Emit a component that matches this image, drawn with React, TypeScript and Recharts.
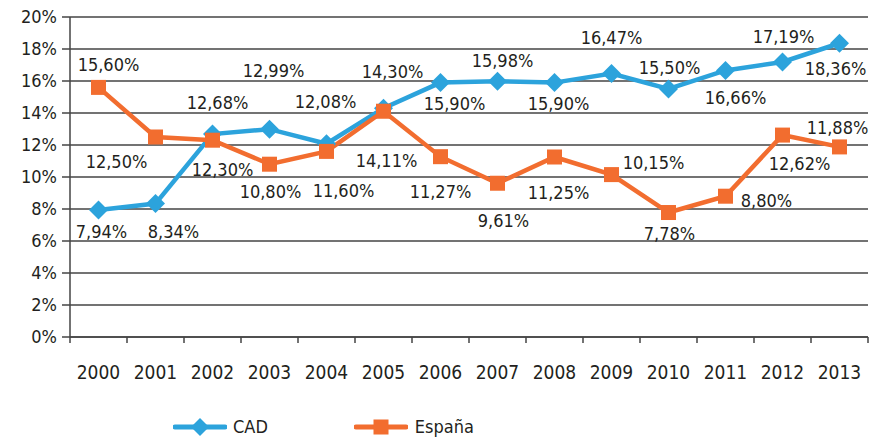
import React from 'react';
import {
  CartesianGrid,
  Legend,
  LabelList,
  Line,
  LineChart,
  XAxis,
  YAxis,
} from 'recharts';

// 数据
const years = ['2000', '2001', '2002', '2003', '2004', '2005', '2006', '2007', '2008', '2009', '2010', '2011', '2012', '2013'];
const cad = [7.94, 8.34, 12.68, 12.99, 12.08, 14.3, 15.9, 15.98, 15.9, 16.47, 15.5, 16.66, 17.19, 18.36];
const espana = [15.6, 12.5, 12.3, 10.8, 11.6, 14.11, 11.27, 9.61, 11.25, 10.15, 7.78, 8.8, 12.62, 11.88];
const yTicks = [0, 2, 4, 6, 8, 10, 12, 14, 16, 18, 20];

// label placement (dx, dy from the point)
const cadLabelOffsets: [number, number][] = [
  [3, 22], [18, 28], [5, -32], [4, -59], [-1, -42], [9, -37], [14, 21],
  [5, -21], [4, 21], [0, -36], [1, -22], [10, 27], [1, -25], [-4, 25],
];
const espanaLabelOffsets: [number, number][] = [
  [10, -23], [-39, 24], [10, 29], [1, 27], [17, 39], [3, 49], [0, 35],
  [6, 37], [4, 35], [42, -12], [1, 21], [41, 4], [17, 28], [-2, -19],
];

const W = 870;
const H = 439;
const LEFT = 70;
const RIGHT = 2;
const HALF_BAND = (W - LEFT - RIGHT) / years.length / 2;

const BLUE = '#2ca3dc';
const ORANGE = '#f26d2f';
const TEXT = '#231f20';
const GRID = '#454545';
const FONT = "'DejaVu Sans Condensed', 'Liberation Sans Narrow', 'Noto Sans', sans-serif";

const data = years.map((y, i) => ({ x: i + 0.5, year: y, cad: cad[i], espana: espana[i] }));
const xTicks = years.map((_, i) => i).concat(years.length);

const Diamond = ({ cx, cy, r = 9, fill }: any) => (
  <polygon
    points={`${cx},${cy - r} ${cx + r},${cy} ${cx},${cy + r} ${cx - r},${cy}`}
    fill={fill}
  />
);

const Square = ({ cx, cy, s = 15, fill }: any) => (
  <rect x={cx - s / 2} y={cy - s / 2} width={s} height={s} fill={fill} />
);

const makeLabel = (offsets: [number, number][]) => (props: any) => {
  const { x, y, value, index } = props;
  const [dx, dy] = offsets[index] || [0, -20];
  return (
    <text
      x={x + dx}
      y={y + dy}
      textAnchor="middle"
      dominantBaseline="central"
      fill={TEXT}
      fontSize={18}
      fontFamily={FONT}
    >
      {value.toFixed(2).replace('.', ',')}%
    </text>
  );
};

const YearTick = ({ x, y, payload }: any) => {
  if (payload.value >= years.length) return <g />;
  return (
    <text
      x={x + HALF_BAND}
      y={y + 27}
      textAnchor="middle"
      dominantBaseline="central"
      fill={TEXT}
      fontSize={19}
      fontFamily={FONT}
    >
      {years[payload.value]}
    </text>
  );
};

const LegendContent = () => (
  <div style={{ display: 'flex', alignItems: 'center', fontFamily: FONT, fontSize: 18, lineHeight: '22px', color: TEXT }}>
    <svg width={54} height={22}>
      <line x1={2} y1={11} x2={52} y2={11} stroke={BLUE} strokeWidth={5} strokeLinecap="round" />
      <Diamond cx={27} cy={11} r={9} fill={BLUE} />
    </svg>
    <span style={{ marginLeft: 6, marginRight: 86 }}>CAD</span>
    <svg width={54} height={22}>
      <line x1={2} y1={11} x2={52} y2={11} stroke={ORANGE} strokeWidth={5} strokeLinecap="round" />
      <Square cx={27} cy={11} s={15} fill={ORANGE} />
    </svg>
    <span style={{ marginLeft: 7 }}>España</span>
  </div>
);

export default function App() {
  return (
    <div style={{ position: 'absolute', top: 0, left: 0, width: W, height: H, background: '#fff' }}>
      <LineChart width={W} height={H} data={data} margin={{ top: 17, right: RIGHT, left: 0, bottom: 62 }}>
        <CartesianGrid horizontal vertical={false} stroke={GRID} strokeWidth={1.5} />
        <XAxis
          type="number"
          dataKey="x"
          domain={[0, years.length]}
          ticks={xTicks}
          interval={0}
          height={40}
          tick={<YearTick />}
          tickSize={6}
          stroke={GRID}
          strokeWidth={1.5}
        />
        <YAxis
          domain={[0, 20]}
          ticks={yTicks}
          interval={0}
          width={LEFT}
          tickSize={8}
          tickMargin={5}
          stroke={GRID}
          strokeWidth={1.5}
          tick={{ fill: TEXT, fontSize: 18, fontFamily: FONT }}
          tickFormatter={(v) => `${v}%`}
        />
        <Legend
          layout="horizontal"
          verticalAlign="middle"
          align="center"
          wrapperStyle={{ top: 416, left: 173, width: 400, height: 22 }}
          content={<LegendContent />}
        />
        <Line
          dataKey="cad"
          name="CAD"
          stroke={BLUE}
          strokeWidth={4.5}
          type="linear"
          isAnimationActive={false}
          dot={(p: any) => <Diamond key={`c${p.index}`} cx={p.cx} cy={p.cy} r={9.5} fill={BLUE} />}
          activeDot={false}
        >
          <LabelList dataKey="cad" content={makeLabel(cadLabelOffsets)} />
        </Line>
        <Line
          dataKey="espana"
          name="España"
          stroke={ORANGE}
          strokeWidth={4.5}
          type="linear"
          isAnimationActive={false}
          dot={(p: any) => <Square key={`e${p.index}`} cx={p.cx} cy={p.cy} s={15} fill={ORANGE} />}
          activeDot={false}
        >
          <LabelList dataKey="espana" content={makeLabel(espanaLabelOffsets)} />
        </Line>
      </LineChart>
    </div>
  );
}
